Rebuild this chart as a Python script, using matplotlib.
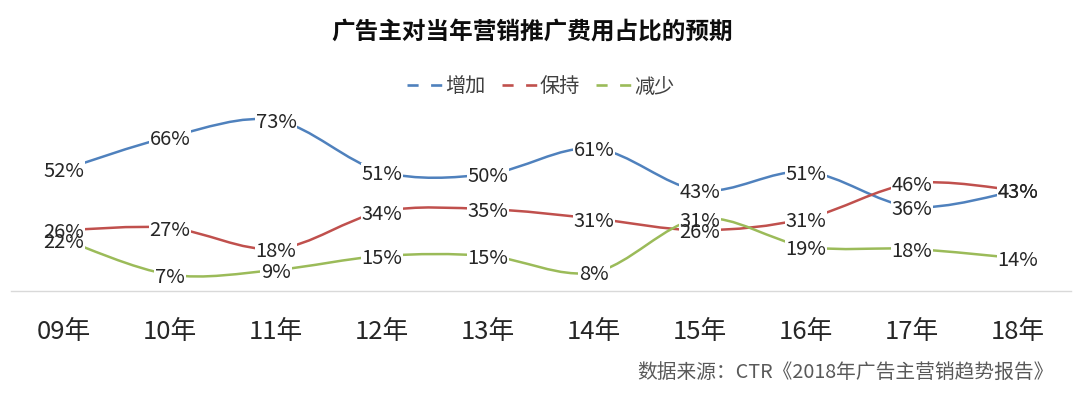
import matplotlib
matplotlib.use("Agg")
import matplotlib.pyplot as plt
from matplotlib.path import Path
from matplotlib.patches import PathPatch
from matplotlib.lines import Line2D
import numpy as np

plt.rcParams['font.family'] = ['Noto Sans CJK SC', 'DejaVu Sans']
plt.rcParams['lines.scale_dashes'] = False

# ---- data ----
years = ["09年", "10年", "11年", "12年", "13年", "14年", "15年", "16年", "17年", "18年"]
increase = [52, 66, 73, 51, 50, 61, 43, 51, 36, 43]
keep = [26, 27, 18, 34, 35, 31, 26, 31, 46, 43]
decrease = [22, 7, 9, 15, 15, 8, 31, 19, 18, 14]
series_names = ["增加", "保持", "减少"]
colors = ["#4F81BD", "#C0504D", "#9BBB59"]
title = "广告主对当年营销推广费用占比的预期"
source = "数据来源：CTR《2018年广告主营销趋势报告》"

W, H = 1080, 394
fig = plt.figure(figsize=(W / 100, H / 100), dpi=100)
left_px, right_px = 11, 1071
bottom_px, top_px = 291, 104
ax = fig.add_axes([left_px / W, 1 - bottom_px / H, (right_px - left_px) / W, (bottom_px - top_px) / H])
ax.set_xlim(-0.5, len(years) - 0.5)
ax.set_ylim(0, 80)


def smooth_path(xs, ys):
    """Excel-like smoothed line: cubic Bezier segments through the data points."""
    pts = np.column_stack([xs, ys]).astype(float)
    n = len(pts)
    verts = [pts[0]]
    codes = [Path.MOVETO]
    for i in range(n - 1):
        p0 = pts[i - 1] if i > 0 else pts[i]
        p1 = pts[i]
        p2 = pts[i + 1]
        p3 = pts[i + 2] if i + 2 < n else pts[i + 1]
        c1 = p1 + (p2 - p0) / 6.0
        c2 = p2 - (p3 - p1) / 6.0
        verts += [c1, c2, p2]
        codes += [Path.CURVE4] * 3
    return Path(verts, codes)


x = np.arange(len(years))
all_series = [increase, keep, decrease]
for vals, c in zip(all_series, colors):
    ax.add_patch(PathPatch(smooth_path(x, vals), fc='none', ec=c, lw=1.8, zorder=2,
                           capstyle='round', joinstyle='round'))

label_fs = 14.5
for vals in all_series:
    for xi, v in zip(x, vals):
        ax.text(xi, v, f"{v}%", ha='center', va='center_baseline', fontsize=label_fs,
                color=(0, 0, 0, 0), zorder=3,
                bbox=dict(boxstyle='square,pad=0.05', fc='white', ec='none'))
for vals in all_series:
    for xi, v in zip(x, vals):
        ax.text(xi, v, f"{v}%", ha='center', va='center_baseline', fontsize=label_fs,
                color='#262626', zorder=4)

ax.set_xticks(x)
ax.set_xticklabels(years, fontsize=18.5, color='#262626')
ax.tick_params(axis='x', length=0, pad=20)
ax.set_yticks([])
for s in ['top', 'left', 'right']:
    ax.spines[s].set_visible(False)
ax.spines['bottom'].set_color('#D9D9D9')
ax.spines['bottom'].set_linewidth(1.0)
ax.spines['bottom'].set_bounds(-0.5, 9.5)

fig.text(532 / W, 1 - 32 / H, title, ha='center', va='center', fontsize=17,
         fontweight='bold', color='#0D0D0D')

handles = [Line2D([0], [0], color=c, lw=1.9, dashes=(8, 9)) for c in colors]
fig.legend(handles, series_names, loc='center', bbox_to_anchor=(541 / W, 1 - 87 / H),
           ncol=3, frameon=False, fontsize=14.5, handlelength=1.8, handletextpad=0.1,
           columnspacing=0.8, labelcolor='#404040')

fig.text(1054 / W, 1 - 372 / H, source, ha='right', va='center', fontsize=14.2,
         color='#595959')

fig.savefig("out.png", dpi=100, facecolor='white')
